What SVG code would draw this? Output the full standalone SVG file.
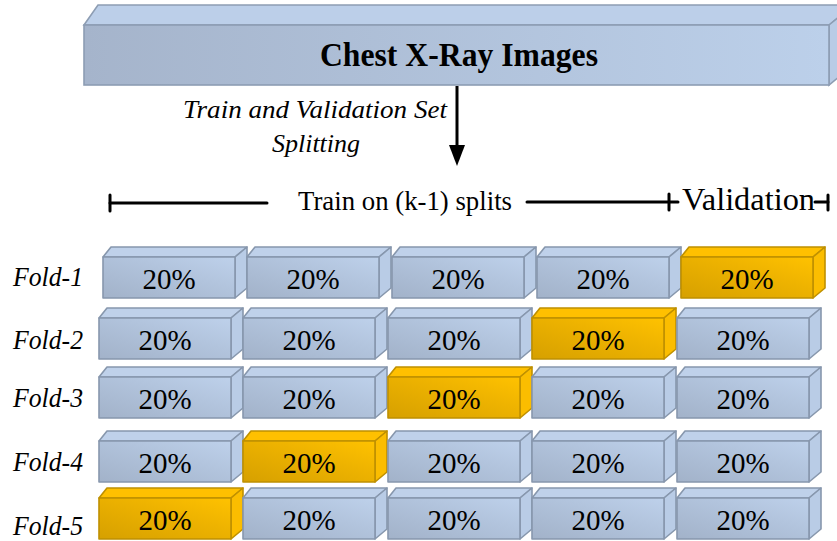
<svg xmlns="http://www.w3.org/2000/svg" xmlns:xlink="http://www.w3.org/1999/xlink" width="837" height="541" viewBox="0 0 837 541">
<style>
  text { font-family: 'Liberation Serif', 'Times New Roman', serif; fill: #000; }
  .pct { font-size: 29px; text-anchor: middle; }
  .fold { font-size: 27px; font-style: italic; }
  .bline { stroke: #000; stroke-width: 3; fill: none; stroke-linecap: round; }
  .bstroke { stroke: #8797ad; stroke-width: 1.6; stroke-linejoin: round; }
  .ostroke { stroke: #bf9000; stroke-width: 1.6; stroke-linejoin: round; }
</style>
<defs>
  <linearGradient id="gBlue" x1="0" y1="1" x2="1" y2="0">
    <stop offset="0" stop-color="#a2b2c9"/>
    <stop offset="0.6" stop-color="#b2c4dd"/>
    <stop offset="1" stop-color="#bed1eb"/>
  </linearGradient>
  <linearGradient id="gOrange" x1="0" y1="1" x2="1" y2="0">
    <stop offset="0" stop-color="#d6a000"/>
    <stop offset="0.6" stop-color="#eeb300"/>
    <stop offset="1" stop-color="#ffc200"/>
  </linearGradient>
  <linearGradient id="gTopBox" x1="0" y1="0.5" x2="1" y2="0.5">
    <stop offset="0" stop-color="#a5b4cb"/>
    <stop offset="1" stop-color="#bcd0ea"/>
  </linearGradient>
  <g id="cubeBlue">
    <polygon class="bstroke" points="0,0 8,-10 144,-10 132,0" fill="#bfd1ea"/>
    <polygon class="bstroke" points="132,0 144,-10 144,31 132,41" fill="#b9cce6"/>
    <rect class="bstroke" x="0" y="0" width="132" height="41" fill="url(#gBlue)"/>
  </g>
  <g id="cubeOrange">
    <polygon class="ostroke" points="0,0 8,-10 144,-10 132,0" fill="#ffc000"/>
    <polygon class="ostroke" points="132,0 144,-10 144,31 132,41" fill="#fbbd00"/>
    <rect class="ostroke" x="0" y="0" width="132" height="41" fill="url(#gOrange)"/>
  </g>
</defs>

<g id="dataset">
  <polygon points="84,25 98,5 854,5 829,25" fill="#bccfe9" stroke="#8d9db3" stroke-width="1.6"/>
  <polygon points="829,25 854,5 854,65 829,85" fill="#b9cce6" stroke="#8d9db3" stroke-width="1.6"/>
  <rect x="84" y="25" width="745" height="60" fill="url(#gTopBox)" stroke="#8d9db3" stroke-width="1.6"/>
  <text x="320" y="66" font-size="34" font-weight="bold" textLength="278" lengthAdjust="spacingAndGlyphs">Chest X-Ray Images</text>
</g>

<g id="connectors">
  <g id="split-arrow">
    <line x1="457" y1="86" x2="457" y2="148" stroke="#000" stroke-width="3"/>
    <polygon points="449,145 465,145 457,166" fill="#000"/>
  </g>
  <g id="split-bracket">
    <line class="bline" x1="110" y1="203" x2="267" y2="203"/>
    <line class="bline" x1="110" y1="195" x2="110" y2="211"/>
    <line class="bline" x1="527" y1="202" x2="678" y2="202"/>
    <line class="bline" x1="669" y1="194" x2="669" y2="210"/>
    <line class="bline" x1="815" y1="202" x2="828" y2="202"/>
    <line class="bline" x1="828" y1="195" x2="828" y2="210"/>
  </g>
</g>

<g id="split-label">
  <text x="183" y="118" font-size="26" font-style="italic" textLength="264" lengthAdjust="spacingAndGlyphs">Train and Validation Set</text>
  <text x="316" y="152" font-size="26" font-style="italic" text-anchor="middle">Splitting</text>
</g>
<g id="train-label"><text x="298" y="210" font-size="28" textLength="214" lengthAdjust="spacingAndGlyphs">Train on (k-1) splits</text></g>
<g id="validation-label"><text x="682" y="210" font-size="31" textLength="133" lengthAdjust="spacingAndGlyphs">Validation</text></g>

<g id="fold-labels">
  <text class="fold" x="13" y="286" textLength="70" lengthAdjust="spacingAndGlyphs">Fold-1</text>
  <text class="fold" x="13" y="349" textLength="70" lengthAdjust="spacingAndGlyphs">Fold-2</text>
  <text class="fold" x="13" y="407" textLength="70" lengthAdjust="spacingAndGlyphs">Fold-3</text>
  <text class="fold" x="13" y="471" textLength="70" lengthAdjust="spacingAndGlyphs">Fold-4</text>
  <text class="fold" x="13" y="535" textLength="70" lengthAdjust="spacingAndGlyphs">Fold-5</text>
</g>

<g id="f1c1"><use xlink:href="#cubeBlue" x="103" y="257"/><text class="pct" x="169" y="289">20%</text></g>
<g id="f1c2"><use xlink:href="#cubeBlue" x="247" y="257"/><text class="pct" x="313" y="289">20%</text></g>
<g id="f1c3"><use xlink:href="#cubeBlue" x="392" y="257"/><text class="pct" x="458" y="289">20%</text></g>
<g id="f1c4"><use xlink:href="#cubeBlue" x="537" y="257"/><text class="pct" x="603" y="289">20%</text></g>
<g id="f1c5"><use xlink:href="#cubeOrange" x="681" y="257"/><text class="pct" x="747" y="289">20%</text></g>
<g id="f2c1"><use xlink:href="#cubeBlue" x="99" y="318"/><text class="pct" x="165" y="350">20%</text></g>
<g id="f2c2"><use xlink:href="#cubeBlue" x="243" y="318"/><text class="pct" x="309" y="350">20%</text></g>
<g id="f2c3"><use xlink:href="#cubeBlue" x="388" y="318"/><text class="pct" x="454" y="350">20%</text></g>
<g id="f2c4"><use xlink:href="#cubeOrange" x="532" y="318"/><text class="pct" x="598" y="350">20%</text></g>
<g id="f2c5"><use xlink:href="#cubeBlue" x="677" y="318"/><text class="pct" x="743" y="350">20%</text></g>
<g id="f3c1"><use xlink:href="#cubeBlue" x="99" y="377"/><text class="pct" x="165" y="409">20%</text></g>
<g id="f3c2"><use xlink:href="#cubeBlue" x="243" y="377"/><text class="pct" x="309" y="409">20%</text></g>
<g id="f3c3"><use xlink:href="#cubeOrange" x="388" y="377"/><text class="pct" x="454" y="409">20%</text></g>
<g id="f3c4"><use xlink:href="#cubeBlue" x="532" y="377"/><text class="pct" x="598" y="409">20%</text></g>
<g id="f3c5"><use xlink:href="#cubeBlue" x="677" y="377"/><text class="pct" x="743" y="409">20%</text></g>
<g id="f4c1"><use xlink:href="#cubeBlue" x="99" y="441"/><text class="pct" x="165" y="473">20%</text></g>
<g id="f4c2"><use xlink:href="#cubeOrange" x="243" y="441"/><text class="pct" x="309" y="473">20%</text></g>
<g id="f4c3"><use xlink:href="#cubeBlue" x="388" y="441"/><text class="pct" x="454" y="473">20%</text></g>
<g id="f4c4"><use xlink:href="#cubeBlue" x="532" y="441"/><text class="pct" x="598" y="473">20%</text></g>
<g id="f4c5"><use xlink:href="#cubeBlue" x="677" y="441"/><text class="pct" x="743" y="473">20%</text></g>
<g id="f5c1"><use xlink:href="#cubeOrange" x="99" y="498"/><text class="pct" x="165" y="530">20%</text></g>
<g id="f5c2"><use xlink:href="#cubeBlue" x="243" y="498"/><text class="pct" x="309" y="530">20%</text></g>
<g id="f5c3"><use xlink:href="#cubeBlue" x="388" y="498"/><text class="pct" x="454" y="530">20%</text></g>
<g id="f5c4"><use xlink:href="#cubeBlue" x="532" y="498"/><text class="pct" x="598" y="530">20%</text></g>
<g id="f5c5"><use xlink:href="#cubeBlue" x="677" y="498"/><text class="pct" x="743" y="530">20%</text></g>
</svg>
